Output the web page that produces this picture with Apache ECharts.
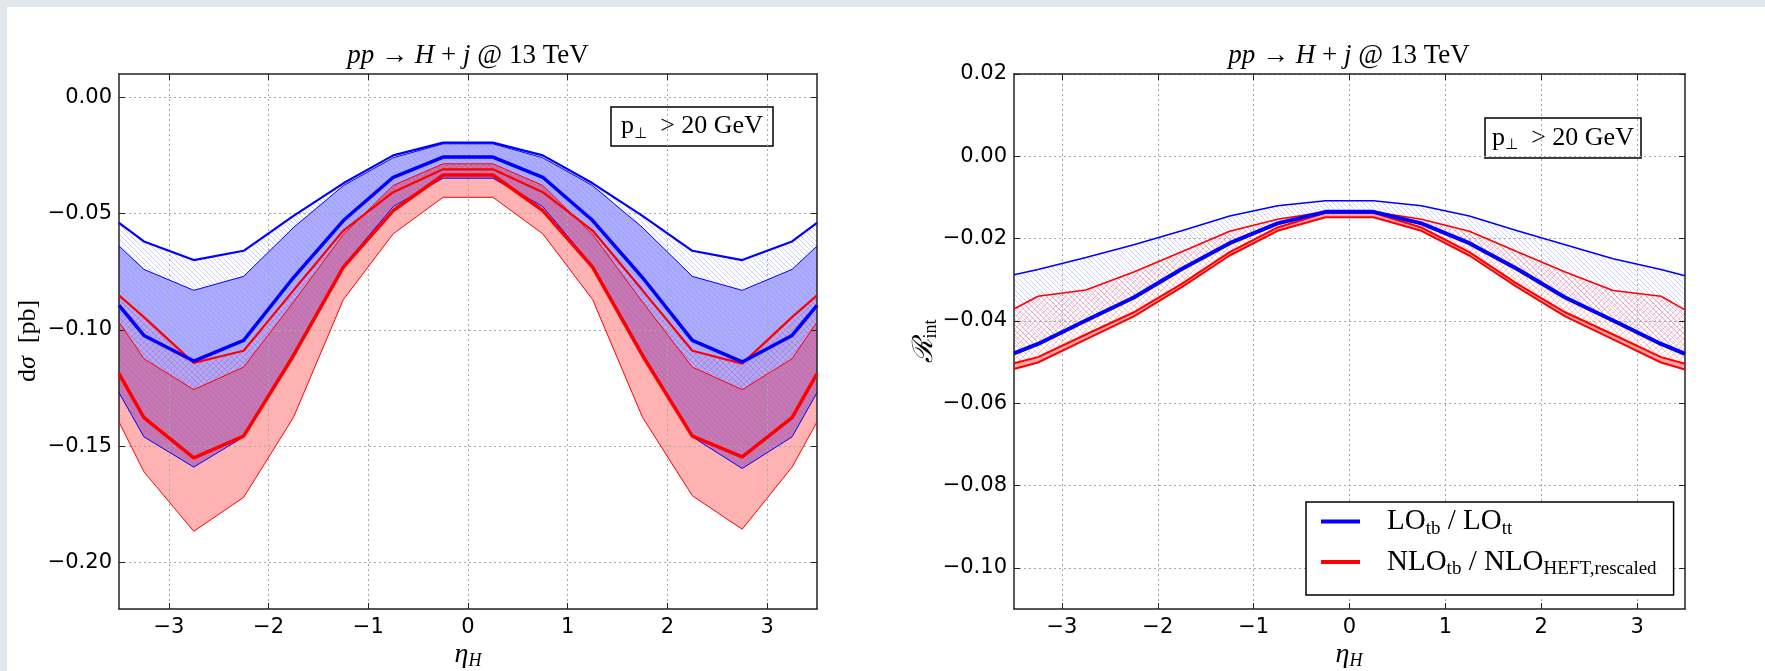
<!DOCTYPE html>
<html><head><meta charset="utf-8">
<script src="https://cdn.jsdelivr.net/npm/echarts@6/dist/echarts.min.js"></script>
<style>html,body{margin:0;padding:0;background:#fff}#c{width:1765px;height:671px}</style>
</head><body><div id="c"></div>
<script>
// ---------- data ----------
const etaBins = [-3.5,-3.25,-2.75,-2.25,-1.75,-1.25,-0.75,-0.25,0.25,0.75,1.25,1.75,2.25,2.75,3.25,3.5];
const xTicks = [-3,-2,-1,0,1,2,3];
const yTicksLeft = [-0.20,-0.15,-0.10,-0.05,0.00];
const yTicksRight = [-0.10,-0.08,-0.06,-0.04,-0.02,0.00,0.02];

// left panel: d sigma [pb]
const loScaleUp   = [-0.054,-0.062,-0.070,-0.066,-0.051,-0.037,-0.025,-0.0195,-0.0195,-0.025,-0.037,-0.051,-0.066,-0.070,-0.062,-0.054];
const loBandUp    = [-0.064,-0.074,-0.083,-0.077,-0.056,-0.038,-0.026,-0.020,-0.020,-0.026,-0.038,-0.056,-0.077,-0.083,-0.074,-0.064];
const loCentral   = [-0.0895,-0.1024,-0.1134,-0.1045,-0.0775,-0.053,-0.0344,-0.0257,-0.0257,-0.0344,-0.053,-0.0775,-0.1045,-0.1138,-0.1024,-0.0895];
const loBandDn    = [-0.127,-0.146,-0.159,-0.146,-0.110,-0.0725,-0.047,-0.0348,-0.0348,-0.047,-0.0725,-0.110,-0.146,-0.1596,-0.146,-0.127];
const nloScaleUp  = [-0.0852,-0.0945,-0.1142,-0.109,-0.083,-0.0573,-0.0408,-0.031,-0.031,-0.0408,-0.0573,-0.083,-0.109,-0.1145,-0.0945,-0.0852];
const nloBandUp   = [-0.0966,-0.1124,-0.1257,-0.116,-0.088,-0.059,-0.0379,-0.0286,-0.0286,-0.0379,-0.059,-0.088,-0.116,-0.1257,-0.1124,-0.0966];
const nloCentral  = [-0.1188,-0.1377,-0.155,-0.1457,-0.111,-0.073,-0.0487,-0.0334,-0.0334,-0.0487,-0.073,-0.111,-0.1457,-0.1546,-0.1377,-0.1188];
const nloBandDn   = [-0.1396,-0.161,-0.1866,-0.172,-0.1376,-0.087,-0.0587,-0.043,-0.043,-0.0587,-0.087,-0.1376,-0.1713,-0.1857,-0.159,-0.1396];

// right panel: R_int
const rLoUp       = [-0.0288,-0.0275,-0.0246,-0.0215,-0.0181,-0.0145,-0.0120,-0.0108,-0.0108,-0.0120,-0.0145,-0.0181,-0.0215,-0.0249,-0.0275,-0.0290];
const rNloUp      = [-0.0371,-0.0340,-0.0325,-0.0281,-0.0232,-0.0182,-0.0153,-0.0135,-0.0135,-0.0153,-0.0182,-0.0232,-0.0281,-0.0326,-0.0340,-0.0373];
const rLoCentral  = [-0.0479,-0.0456,-0.0399,-0.0343,-0.0274,-0.0211,-0.0163,-0.0135,-0.0135,-0.0163,-0.0211,-0.0274,-0.0343,-0.0399,-0.0456,-0.0480];
const rNloBandUp  = [-0.0503,-0.0488,-0.0433,-0.0379,-0.0310,-0.0233,-0.0173,-0.0137,-0.0137,-0.0173,-0.0233,-0.0310,-0.0379,-0.0433,-0.0488,-0.0504];
const rNloBandDn  = [-0.0517,-0.0501,-0.0445,-0.0389,-0.0318,-0.0241,-0.0181,-0.0148,-0.0148,-0.0181,-0.0241,-0.0318,-0.0389,-0.0445,-0.0501,-0.0518];

// ---------- helpers ----------
const BLUE = '#0000ff', RED = '#ff0000';
const SERIF = "'Liberation Serif','DejaVu Serif',serif";
const SANS = "'DejaVu Sans',sans-serif";

function hatch(color, dirs, size, lw) {
  const c = document.createElement('canvas');
  c.width = size; c.height = size;
  const g = c.getContext('2d');
  g.strokeStyle = color; g.lineWidth = lw;
  dirs.forEach(d => {
    for (let k = -size; k <= size; k += size) {
      g.beginPath();
      if (d === '\\') { g.moveTo(k, 0); g.lineTo(k + size, size); }
      else { g.moveTo(k, size); g.lineTo(k + size, 0); }
      g.stroke();
    }
  });
  return { image: c, repeat: 'repeat' };
}
const blueHatch = hatch('rgba(0,0,255,0.28)', ['\\'], 5, 0.7);
const blueHatchOnFill = hatch('rgba(0,0,255,0.14)', ['\\'], 5, 0.7);
const redCross = hatch('rgba(255,0,0,0.30)', ['\\','/'], 6, 0.7);

function band(ax, lower, upper, fills, z) {
  return {
    type: 'custom', xAxisIndex: ax, yAxisIndex: ax, z: z, silent: true,
    data: etaBins.map((x, i) => [x, lower[i], upper[i]]),
    encode: { x: 0, y: [1, 2] },
    renderItem(params, api) {
      if (params.dataIndex !== 0) return null;
      const pts = [];
      for (let i = 0; i < etaBins.length; i++) pts.push(api.coord([etaBins[i], upper[i]]));
      for (let i = etaBins.length - 1; i >= 0; i--) pts.push(api.coord([etaBins[i], lower[i]]));
      return { type: 'group', children: fills.map(f => ({ type: 'polygon', shape: { points: pts }, style: { fill: f, stroke: null } })) };
    }
  };
}
function line(ax, name, arr, color, width, z) {
  return {
    type: 'line', name: name, xAxisIndex: ax, yAxisIndex: ax, z: z || 4,
    data: etaBins.map((x, i) => [x, arr[i]]),
    symbol: 'none', silent: true,
    lineStyle: { color: color, width: width }, itemStyle: { color: color }
  };
}
const fmt = d => v => (v < 0 ? '\u2212' : '') + Math.abs(v).toFixed(d);

function xAx(grid, bottom) {
  return {
    type: 'value', gridIndex: grid, min: -3.5, max: 3.5, position: bottom ? 'bottom' : 'top', z: 3,
    axisLine: { show: true, onZero: false, lineStyle: { color: '#222', width: 1.5 } },
    axisTick: { show: true, inside: true, length: 6, customValues: xTicks, lineStyle: { color: '#222', width: 1 } },
    axisLabel: { show: bottom, customValues: xTicks, formatter: fmt(0), fontFamily: SANS, fontSize: 21, color: '#000', margin: 8 },
    splitLine: { show: bottom, lineStyle: { color: '#a8a8a8', type: [2, 3], width: 1 } }
  };
}
function yAx(grid, left, min, max, ticks) {
  return {
    type: 'value', gridIndex: grid, min: min, max: max, position: left ? 'left' : 'right', z: 3,
    axisLine: { show: true, onZero: false, lineStyle: { color: '#222', width: 1.5 } },
    axisTick: { show: true, inside: true, length: 6, customValues: ticks, lineStyle: { color: '#222', width: 1 } },
    axisLabel: { show: left, customValues: ticks, formatter: fmt(2), fontFamily: SANS, fontSize: 21, color: '#000', margin: 7 },
    splitLine: { show: left, lineStyle: { color: '#a8a8a8', type: [2, 3], width: 1 } }
  };
}

const richBase = {
  r: { fontFamily: SERIF, fontSize: 27, fill: '#000' },
  i: { fontFamily: SERIF, fontSize: 27, fontStyle: 'italic', fill: '#000' }
};
function titleText(x) {
  return { type: 'text', x: x, y: 56, z: 10, style: {
    text: '{i|pp}{r| \u2192 }{i|H}{r| + }{i|j}{r| @ 13 TeV}', rich: richBase,
    align: 'center', verticalAlign: 'middle' } };
}
function etaLabel(x) {
  return { type: 'text', x: x, y: 655, z: 10, style: {
    text: '{i|\u03b7}{s|H}',
    rich: { i: { fontFamily: SERIF, fontSize: 28, fontStyle: 'italic', fill: '#000', lineHeight: 30, verticalAlign: 'middle' },
            s: { fontFamily: SERIF, fontSize: 18, fontStyle: 'italic', fill: '#000', lineHeight: 17, verticalAlign: 'bottom' } },
    align: 'center', verticalAlign: 'middle' } };
}
function pBox(x0, y0, w, h) {
  return { type: 'group', z: 10, children: [
    { type: 'rect', shape: { x: x0, y: y0, width: w, height: h }, style: { fill: '#fff', stroke: '#000', lineWidth: 1.5 } },
    { type: 'text', x: x0 + w / 2, y: y0 + h / 2, style: {
      text: '{m|p}{b|\u22a5}{m|  > 20 GeV}',
      rich: { m: { fontFamily: SERIF, fontSize: 26, fill: '#000', lineHeight: 30, verticalAlign: 'middle' },
              b: { fontFamily: "'DejaVu Sans',sans-serif", fontSize: 15, fill: '#000', lineHeight: 15, verticalAlign: 'bottom' } },
      align: 'center', verticalAlign: 'middle' } }
  ] };
}

const option = {
  animation: false,
  backgroundColor: '#fff',
  grid: [
    { left: 119, top: 74, width: 698, height: 535 },
    { left: 1014, top: 74, width: 671, height: 535 }
  ],
  xAxis: [xAx(0, true), xAx(0, false), xAx(1, true), xAx(1, false)],
  yAxis: [yAx(0, true, -0.22, 0.01, yTicksLeft), yAx(0, false, -0.22, 0.01, yTicksLeft),
          yAx(1, true, -0.11, 0.02, yTicksRight), yAx(1, false, -0.11, 0.02, yTicksRight)],
  legend: {
    left: 1306, top: 502, orient: 'vertical', padding: [5, 17, 16, 15], itemGap: 9,
    borderColor: '#000', borderWidth: 1.5, backgroundColor: '#fff',
    itemWidth: 39, itemHeight: 4, icon: 'rect', selectedMode: false,
    data: [{ name: 'LO' }, { name: 'NLO' }],
    formatter: n => n === 'LO'
      ? '{s| }{m|LO}{b|tb}{m| / LO}{b|tt}'
      : '{s| }{m|NLO}{b|tb}{m| / NLO}{b|HEFT,rescaled}',
    textStyle: { rich: {
      s: { width: 22, fontSize: 10 },
      m: { fontFamily: SERIF, fontSize: 29, color: '#000', lineHeight: 34, verticalAlign: 'middle' },
      b: { fontFamily: SERIF, fontSize: 19, color: '#000', lineHeight: 18, verticalAlign: 'bottom' }
    } }
  },
  graphic: [
    { type: 'rect', shape: { x: 0, y: 0, width: 1765, height: 7 }, style: { fill: '#e2e7ea' }, z: 0 },
    { type: 'rect', shape: { x: 0, y: 0, width: 7, height: 671 }, style: { fill: '#e2e7ea' }, z: 0 },
    titleText(468), titleText(1349),
    etaLabel(468), etaLabel(1349),
    { type: 'text', x: 28, y: 341, rotation: Math.PI / 2, z: 10, style: {
      text: '{r|d}{i|\u03c3}{r|  [pb]}',
      rich: { r: { fontFamily: SERIF, fontSize: 26, fill: '#000' }, i: { fontFamily: SERIF, fontSize: 26, fontStyle: 'italic', fill: '#000' } },
      align: 'center', verticalAlign: 'middle' } },
    { type: 'text', x: 925, y: 341, rotation: Math.PI / 2, z: 10, style: {
      text: '{i|\u211b}{s|int}',
      rich: { i: { fontFamily: "'DejaVu Serif',serif", fontSize: 28, fontStyle: 'italic', fill: '#000', lineHeight: 30, verticalAlign: 'middle' },
              s: { fontFamily: SERIF, fontSize: 18, fill: '#000', lineHeight: 17, verticalAlign: 'bottom' } },
      align: 'center', verticalAlign: 'middle' } },
    pBox(611, 107, 162, 39),
    pBox(1485, 118, 156, 40)
  ],
  series: [
    // left panel fills
    band(0, loBandDn, loBandUp, ['rgba(0,0,255,0.32)', blueHatchOnFill], 1),
    band(0, loBandUp, loScaleUp, [blueHatch], 1),
    band(0, nloBandDn, nloBandUp, ['rgba(255,0,0,0.30)'], 2),
    band(0, nloBandUp, nloScaleUp, [redCross], 2),
    // left panel lines
    line(0, 'loBandUp', loBandUp, BLUE, 1),
    line(0, 'loBandDn', loBandDn, BLUE, 1),
    line(0, 'nloBandUp', nloBandUp, RED, 1),
    line(0, 'nloBandDn', nloBandDn, RED, 1),
    line(0, 'loScaleUp', loScaleUp, BLUE, 2.2),
    line(0, 'nloScaleUp', nloScaleUp, RED, 2.2),
    line(0, 'loCentralL', loCentral, BLUE, 3.5, 5),
    line(0, 'nloCentralL', nloCentral, RED, 3.5, 5),
    // right panel fills
    band(2, rLoCentral, rLoUp, [blueHatch], 1),
    band(2, rNloBandUp, rNloUp, [redCross], 2),
    band(2, rNloBandDn, rNloBandUp, ['rgba(255,0,0,0.35)'], 2),
    // right panel lines
    line(2, 'rLoUp', rLoUp, BLUE, 1.5),
    line(2, 'rNloUp', rNloUp, RED, 1.5),
    line(2, 'NLO', rNloBandUp, RED, 2, 5),
    line(2, 'rNloBandDn', rNloBandDn, RED, 2, 5),
    line(2, 'LO', rLoCentral, BLUE, 4, 6)
  ]
};
const chart = echarts.init(document.getElementById('c'), null, { renderer: 'canvas' });
chart.setOption(option);
</script>
</body></html>
